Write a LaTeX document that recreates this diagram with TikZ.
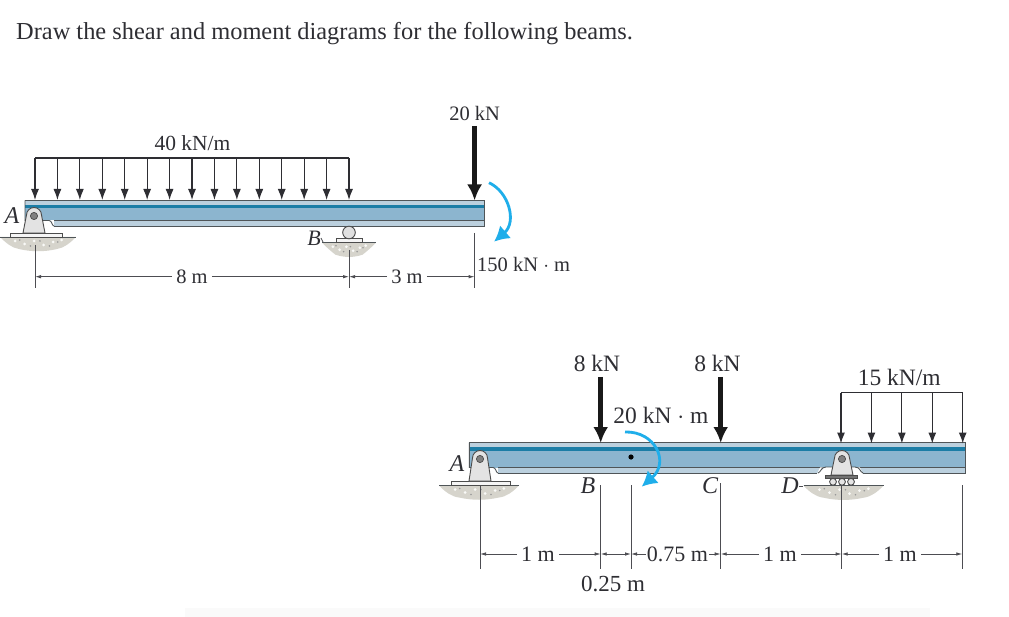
\documentclass[tikz,border=0pt]{standalone}
\usepackage{fontspec}
\setmainfont{Liberation Serif}
\usetikzlibrary{arrows.meta}
\definecolor{txt}{HTML}{2E2E33}
\definecolor{web}{HTML}{8CB5CF}
\definecolor{flange}{HTML}{BBD0DE}
\definecolor{band}{HTML}{1B7DA6}
\definecolor{edgec}{HTML}{4F5558}
\definecolor{cyanm}{HTML}{1FAEEA}
\definecolor{soil}{HTML}{D6D4CC}
\tikzset{
  x=1pt,y=-1pt,
  lab/.style={inner sep=0pt,text=txt,font=\fontsize{20.5}{22}\selectfont},
  labb/.style={lab,font=\fontsize{23.5}{25}\selectfont},
  dimlab/.style={lab,text height=14pt,text depth=0pt,inner xsep=4pt},
  dimlabb/.style={lab,font=\fontsize{22}{24}\selectfont,text height=15pt,text depth=0pt,inner xsep=4pt},
  ital/.style={lab,font=\fontsize{24}{26}\selectfont\itshape},
  ext/.style={draw=txt!85,line width=0.8pt},
  dimline/.style={draw=txt!85,line width=0.8pt,-{Latex[length=6pt,width=3.5pt]}},
  dimboth/.style={draw=txt!85,line width=0.8pt,{Latex[length=6pt,width=3.5pt]}-{Latex[length=6pt,width=3.5pt]}},
  udl/.style={draw=txt,line width=1.2pt},
  udlarrow/.style={draw=txt,line width=1.2pt,-{Latex[length=11pt,width=8pt]}},
  force/.style={draw=black!90,line width=4.6pt,-{Latex[length=16pt,width=15pt]}},
  moment/.style={draw=cyanm,line width=2.8pt,-{Latex[length=15pt,width=17pt]}},
  pics/ground/.style={code={
    \fill[soil] (-#1,0) .. controls (-#1+6,6) and (-#1+12,11) .. (-#1/2,12)
      .. controls (-#1/6,15) and (#1/6,15) .. (#1/2,12)
      .. controls (#1-12,11) and (#1-6,6) .. (#1,0) -- cycle;
    \foreach \dx/\dy in {-0.6/4,-0.35/7,-0.1/4,0.15/8,0.4/5,0.62/3}
      \fill[white!85!soil] (\dx*#1,\dy) circle (1.5);
    \foreach \dx/\dy in {-0.48/3,-0.2/9,0.05/4,0.3/9,0.52/5}
      \fill[black!40] (\dx*#1,\dy) circle (0.9);
    \draw[edgec,line width=0.9pt] (-#1,0) -- (#1,0);
  }},
  pics/pinsup/.style={code={
    \draw[fill=black!11,draw=black!70,line width=0.9pt]
      (-11,#1) -- (-7.5,-1) arc[start angle=180,end angle=360,radius=7.5] -- (11,#1) -- cycle;
    \draw[fill=black!50,draw=black!70,line width=0.7pt] (0,0) circle (3.6);
  }},
}
\newcommand{\beamshape}[6]{%
  \fill[web] (#1,#3) rectangle (#2,#4-5.5);
  \fill[flange] (#1,#3) rectangle (#2,#3+4.5);
  \fill[band] (#1,#3+4.5) rectangle (#2,#3+8);
  \fill[flange] (#5,#4-5.5) rectangle (#2,#4);
  \draw[edgec,line width=0.9pt] (#1,#3) -- (#2,#3) -- (#2,#4) -- (#5,#4);
  \draw[edgec,line width=0.9pt] (#1,#3) -- (#1,#4-5.5) -- (#5-5,#4-5.5)
     .. controls (#5-2,#4-5.5) and (#5-2,#4) .. (#5,#4);
  \draw[edgec,line width=0.9pt] (#5,#4-5.5) -- (#2,#4-5.5);
}
\begin{document}
\begin{tikzpicture}
\useasboundingbox (0,0) rectangle (1009,617);
\fill[white] (0,0) rectangle (1009,617);
\fill[black!2] (185,608) rectangle (930,617);
\node[lab,anchor=west,font=\fontsize{24.4}{26}\selectfont] (title) at (16,34) {Draw the shear and moment diagrams for the following beams.};

%% ---- beam 1 ----
\beamshape{25}{484.7}{200.5}{226}{54}{}
\pic at (38,237) {ground=38};
\fill[black!4,draw=black!70,line width=0.9pt] (10,233) rectangle (62,237);
\pic at (34,216) {pinsup=17};
% roller B
\pic at (349,242.7) {ground=27};
\fill[black!4,draw=black!70,line width=0.9pt] (336,238.3) rectangle (362.7,242.5);
\draw[fill=black!12,draw=black!70,line width=0.9pt] (349,232.5) circle (6.3);
% distributed load
\draw[udl] (35,158) -- (349,158);
\foreach \i in {0,...,14} \draw[udlarrow] ({35+\i*22.43},158) -- ({35+\i*22.43},200);
\node[lab,font=\fontsize{21.5}{23}\selectfont] (q1) at (192.5,143) {40 kN/m};
\node[lab] (p1) at (474.6,113) {20 kN};
\coordinate (p1top) at (474.6,126);
\coordinate (p1tip) at (474.6,200.5);
\draw[force] (p1top) -- (p1tip);
\draw[moment] (489,182.7) .. controls (509,192) and (517,222) .. (494,241.7);
\node[lab,anchor=west] (m1) at (477,264) {150 kN $\cdot$ m};
\node[ital] (A1) at (12,216) {A};
\node[ital,font=\fontsize{22}{24}\selectfont\itshape] (B1) at (314,238) {B};
\draw[ext] (B1.east) -- (323,242);
\coordinate (d1a) at (35,276.7);
\coordinate (d1b) at (349,276.7);
\coordinate (d1c) at (474.6,276.7);
\draw[ext] (35,245) -- (35,288);
\draw[ext] (349,250) -- (349,288);
\draw[ext] (474.6,233) -- (474.6,288);
\node[dimlab] (l8) at (192,276.7) {8 m};
\node[dimlab] (l3) at (407,276.7) {3 m};
\draw[dimline] (l8) -- (d1a);
\draw[dimline] (l8) -- (d1b);
\draw[dimline] (l3) -- (d1b);
\draw[dimline] (l3) -- (d1c);

%% ---- beam 2 ----
\beamshape{469.3}{965}{442.7}{473}{498}{}
% notch around support D
\fill[white] (820,467.5) .. controls (823,467) and (858,467) .. (860,467.5) -- (863,473.8) -- (817,473.8) -- cycle;
\draw[edgec,line width=0.9pt] (818,473) .. controls (821,472) and (821,467) .. (826,467) -- (855,467) .. controls (860,467) and (860,472) .. (863,473);
\pic at (479,485.5) {ground=40};
\fill[black!4,draw=black!70,line width=0.9pt] (451,481) rectangle (510,485);
\pic at (480,459) {pinsup=22};
\pic at (843.5,485.7) {ground=40};
\pic at (842,459) {pinsup=16};
\fill[black!55,draw=black!70,line width=0.6pt] (825,475) rectangle (857.7,478);
\foreach \x in {833,842,851} \draw[fill=black!10,draw=black!70,line width=0.9pt] (\x,481.8) circle (3.4);
% forces
\node[labb] (p2) at (597,363) {8 kN};
\node[labb] (p3) at (717.5,363) {8 kN};
\coordinate (p2top) at (600.7,377);
\coordinate (p2tip) at (600.7,443);
\coordinate (p3top) at (720.7,377);
\coordinate (p3tip) at (720.7,443);
\draw[force] (p2top) -- (p2tip);
\draw[force] (p3top) -- (p3tip);
\node[labb] (m2) at (661,415) {20 kN $\cdot$ m};
\fill[black] (631,457) circle (2.6);
\draw[moment] (625,432) .. controls (655,431) and (670,462) .. (641.7,486.7);
% distributed load
\draw[udl] (841,392.7) -- (962.7,392.7);
\foreach \i in {0,...,4} \draw[udlarrow] ({841+\i*30.43},392.7) -- ({841+\i*30.43},443.5);
\node[labb] (q2) at (899.3,377.7) {15 kN/m};
% letters
\node[ital] (A2) at (457,464) {A};
\node[ital] (B2) at (588,486) {B};
\node[ital] (C2) at (710,486) {C};
\node[ital] (D2) at (790,486) {D};
\draw[ext] (D2.east) -- (803,486);
% dimensions
\foreach \x/\t in {480/486,600.7/485,631/485,720.7/483,841.7/486,962.3/485}
  \draw[ext] (\x,\t) -- (\x,569);
\coordinate (e1) at (480,554);
\coordinate (e2) at (600.7,554);
\coordinate (e3) at (631,554);
\coordinate (e4) at (720.7,554);
\coordinate (e5) at (841.7,554);
\coordinate (e6) at (962.3,554);
\node[dimlabb] (l1) at (538,554) {1 m};
\node[dimlabb,inner xsep=1pt] (l75) at (677.5,554) {0.75 m};
\node[dimlabb] (l1b) at (780,554) {1 m};
\node[dimlabb] (l1c) at (900,554) {1 m};
\node[labb,font=\fontsize{23}{25}\selectfont] (l25) at (613,584) {0.25 m};
\draw[dimline] (l1) -- (e1);
\draw[dimline] (l1) -- (e2);
\draw[dimboth] (e2) -- (e3);
\draw[dimline] (l75) -- (e3);
\draw[dimline] (l75) -- (e4);
\draw[dimline] (l1b) -- (e4);
\draw[dimline] (l1b) -- (e5);
\draw[dimline] (l1c) -- (e5);
\draw[dimline] (l1c) -- (e6);
\end{tikzpicture}
\end{document}
